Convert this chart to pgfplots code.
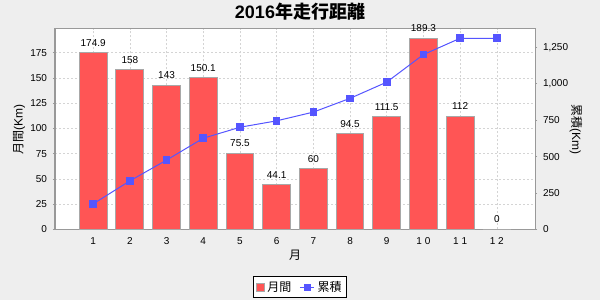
\documentclass[border=0pt]{standalone}
\usepackage{pgfplots}
\pgfplotsset{compat=1.18}
\usepackage{fontspec}
\setmainfont{Liberation Sans}
\newfontfamily\jp{Noto Sans CJK JP}
\definecolor{barred}{HTML}{FF5555}
\definecolor{bargray}{HTML}{A8A8A8}
\definecolor{lineblue}{HTML}{5555FF}
\definecolor{bg}{HTML}{EEEEEE}
\definecolor{gridc}{HTML}{D4D4D4}
\definecolor{framec}{HTML}{999999}
\pgfplotsset{/pgf/number format/assume math mode=true}
\begin{document}
\begin{tikzpicture}
\path[use as bounding box, fill=bg] (0,0) rectangle (450pt,225pt);
\node[anchor=base, inner sep=0pt, font=\fontsize{13.5}{15}\selectfont] at (225pt,211.3pt) {{\bfseries 2016}{\jp\bfseries 年走行距離}};
\begin{axis}[
  at={(41.25pt,53pt)}, anchor=south west,
  scale only axis, width=360pt, height=150.45pt,
  xmin=-0.04, xmax=13.04, ymin=0, ymax=198.77,
  xtick={1,2,3,4,5,6,7,8,9,10,11,12},
  xticklabels={1,2,3,4,5,6,7,8,9,1 0,1 1,1 2},
  ytick={0,25,...,175},
  ytick pos=left,
  axis background/.style={fill=white},
  axis line style={framec, line width=0.75pt},
  grid=major,
  major grid style={gridc, dash pattern=on 1.5pt off 1.5pt, line width=0.5pt},
  tick align=outside, major tick length=1.5pt,
  tick style={framec, line width=0.5pt},
  xtick style={draw=none},
  tick label style={font=\fontsize{7.5}{9}\selectfont},
  xticklabel style={yshift=-1pt},
  yticklabel style={xshift=-1pt},
  xlabel={\jp 月},
  xlabel style={at={(axis description cs:0.5,0)}, anchor=center, yshift=-19.3pt, font=\fontsize{9}{11}\selectfont},
  ylabel={{\jp 月間}(Km)},
  ylabel style={at={(axis description cs:-0.075,0.5)}, anchor=center, font=\fontsize{9}{11}\selectfont},
  legend style={at={(axis description cs:0.5104,-0.2327)}, anchor=north, draw=black, fill=white, line width=0.75pt,
    font=\fontsize{9}{11}\selectfont\jp, inner sep=1.5pt, /tikz/every even column/.append style={column sep=4pt}},
  legend columns=2,
]
\addplot[ybar, bar width=0.76, fill=barred, draw=bargray, line width=0.75pt,
  nodes near coords,
  every node near coord/.append style={font=\fontsize{7.5}{9}\selectfont, inner sep=0pt, yshift=4.5pt, black},
  legend image code/.code={\draw[fill=barred,draw=bargray,line width=0.75pt] (0pt,-3pt) rectangle (6pt,3pt);}]
coordinates {(1,174.9) (2,158) (3,143) (4,150.1) (5,75.5) (6,44.1) (7,60) (8,94.5) (9,111.5) (10,189.3) (11,112) (12,0)};
\addlegendentry{月間}
\addlegendimage{legend image code/.code={\draw[lineblue,line width=0.75pt] (0pt,0pt) -- (11pt,0pt); \fill[lineblue] (3.25pt,-2.25pt) rectangle (7.75pt,2.25pt);}}
\addlegendentry{累積}
\end{axis}
\begin{axis}[
  at={(41.25pt,53pt)}, anchor=south west,
  scale only axis, width=360pt, height=150.45pt,
  xmin=-0.04, xmax=13.04, ymin=0, ymax=1378.5,
  axis y line*=right, axis x line=none,
  ytick={0,250,...,1250},
  scaled y ticks=false,
  y axis line style={framec, line width=0.75pt},
  tick align=outside, major tick length=1.5pt,
  tick style={framec, line width=0.5pt},
  tick label style={font=\fontsize{7.5}{9}\selectfont},
  yticklabel style={xshift=1pt, /pgf/number format/1000 sep={,}},
  ylabel={{\jp 累積}(Km)},
  ylabel style={at={(axis description cs:1.0854,0.5)}, anchor=center, rotate=180, font=\fontsize{9}{11}\selectfont},
]
\addplot[lineblue, line width=0.75pt, mark=square*, mark size=2.5pt, mark options={solid, fill=lineblue}]
coordinates {(1,174.9) (2,332.9) (3,475.9) (4,626.0) (5,701.5) (6,745.6) (7,805.6) (8,900.1) (9,1011.6) (10,1200.9) (11,1312.9) (12,1312.9)};
\end{axis}
\end{tikzpicture}
\end{document}
